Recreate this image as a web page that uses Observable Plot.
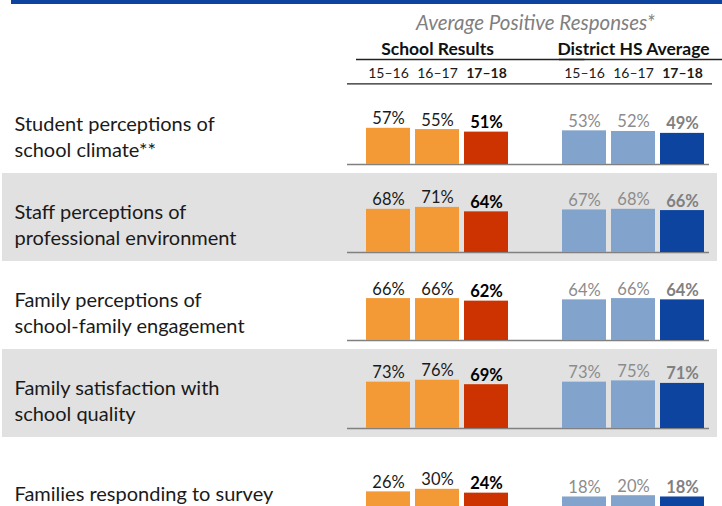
<!DOCTYPE html>
<html>
<head>
<meta charset="utf-8">
<script src="https://cdn.jsdelivr.net/npm/d3@7"></script>
<script src="https://cdn.jsdelivr.net/npm/@observablehq/plot@0.6"></script>
<style>
html, body { margin: 0; padding: 0; background: #fff; overflow: hidden; }
#wrap { position: relative; width: 722px; height: 506px; overflow: hidden; font-family: Lato, sans-serif; }
#topbar { position: absolute; left: 11px; top: 0; width: 711px; height: 4px; background: #0C44A0; z-index: 2; }
#wrap svg { display: block; }
</style>
</head>
<body>
<div id="wrap"><div id="topbar"></div></div>
<script>
// ---- Data ----
const categories = [
  "Student perceptions of\nschool climate**",
  "Staff perceptions of\nprofessional environment",
  "Family perceptions of\nschool-family engagement",
  "Family satisfaction with\nschool quality",
  "Families responding to survey"
];
const years = ["15–16", "16–17", "17–18"];
const groups = ["School Results", "District HS Average"];
const title = "Average Positive Responses*";

const school1516 = [57, 68, 66, 73, 26];
const school1617 = [55, 71, 66, 76, 30];
const school1718 = [51, 64, 62, 69, 24];
const district1516 = [53, 67, 64, 73, 18];
const district1617 = [52, 68, 66, 75, 20];
const district1718 = [49, 66, 64, 71, 18];

// ---- Table built from the arrays ----
const key = (g, y) => g + " " + y;
const seriesList = [
  {group: groups[0], kind: "school", year: years[0], values: school1516},
  {group: groups[0], kind: "school", year: years[1], values: school1617},
  {group: groups[0], kind: "school", year: years[2], values: school1718},
  {group: groups[1], kind: "district", year: years[0], values: district1516},
  {group: groups[1], kind: "district", year: years[1], values: district1617},
  {group: groups[1], kind: "district", year: years[2], values: district1718}
];
const table = seriesList.flatMap(s => categories.map((c, i) => ({
  category: c, group: s.group, kind: s.kind, year: s.year,
  key: key(s.group, s.year), value: s.values[i], current: s.year === years[2]
})));
const xDomain = [...years.map(y => key(groups[0], y)), "gap", ...years.map(y => key(groups[1], y))];
const yearLabels = groups.flatMap(g => years.map(y => ({group: g, year: y, key: key(g, y), current: y === years[2]})));

// ---- Layout / style ----
const W = 722, ML = 347, MR = 13;
const xOptions = {type: "band", domain: xDomain, paddingInner: 0.1, paddingOuter: 0.22, align: 0.8};
const bw = Plot.scale({x: {...xOptions, range: [ML, W - MR]}}).bandwidth;
const colorOptions = {
  domain: ["school prior", "school current", "district prior", "district current"],
  range: ["#F39A37", "#CC3300", "#82A3CC", "#0C44A0"]
};
const font = "Lato, 'Open Sans', sans-serif";
const labelStyles = [
  {kind: "school", current: false, fill: "#1a1a1a", fontWeight: "normal"},
  {kind: "school", current: true, fill: "#000000", fontWeight: "bold"},
  {kind: "district", current: false, fill: "#8c8c8c", fontWeight: "normal"},
  {kind: "district", current: true, fill: "#808080", fontWeight: "bold"}
];

// ---- Header ----
const header = Plot.plot({
  width: W, height: 84, marginLeft: ML, marginRight: MR, marginTop: 0, marginBottom: 0,
  style: {fontFamily: font, background: "transparent", overflow: "visible"},
  x: {...xOptions, axis: null},
  marks: [
    Plot.text([title], {x: () => "gap", frameAnchor: "top", lineAnchor: "bottom", dy: 29,
      fontSize: 20.5, fontStyle: "italic", fill: "#7f7f7f", text: d => d}),
    Plot.text(groups, {x: g => key(g, years[1]), frameAnchor: "top", lineAnchor: "bottom", dy: 54,
      fontSize: 17.5, fontWeight: "bold", fill: "#111", text: d => d}),
    Plot.ruleY([groups[0]], {x1: g => key(g, years[0]), x2: g => key(g, years[2]), y: null, dy: 17,
      insetLeft: -10, insetRight: -(bw + 32), stroke: "#222", strokeWidth: 1.3}),
    Plot.ruleY([groups[1]], {x1: g => key(g, years[0]), x2: g => key(g, years[2]), y: null, dy: 17,
      insetLeft: -3, insetRight: -(bw + 7), stroke: "#222", strokeWidth: 1.3}),
    ...[false, true].map(cur => Plot.text(yearLabels.filter(d => d.current === cur), {
      x: "key", text: "year", frameAnchor: "top", lineAnchor: "bottom", dy: 77,
      fontSize: 14, fontWeight: cur ? "bold" : "normal", fill: "#1a1a1a"})),
    Plot.ruleY([0], {y: null, dy: 41.3, insetRight: -3, stroke: "#222", strokeWidth: 1.3})
  ]
});

// ---- Rows ----
function rowsPlot(cats, bandH, insetTop) {
  const data = table.filter(d => cats.includes(d.category));
  const shaded = cats.filter(c => categories.indexOf(c) % 2 === 1);
  return Plot.plot({
    width: W, height: cats.length * bandH,
    marginLeft: ML, marginRight: MR, marginTop: 0, marginBottom: 0,
    style: {fontFamily: font, background: "transparent"},
    x: {...xOptions, axis: null},
    y: {domain: [0, 100], axis: null, insetTop, insetBottom: 9},
    fy: {domain: cats, axis: null, padding: 0},
    color: colorOptions,
    marks: [
      Plot.rect(shaded, {fy: d => d, fill: "#E1E1E1", insetLeft: -(ML - 2), insetRight: -8}),
      Plot.ruleY(cats, {fy: d => d, y: 0, stroke: "#808080", strokeWidth: 1.5}),
      Plot.barY(data, {x: "key", y: "value", fy: "category",
        fill: d => d.kind + (d.current ? " current" : " prior")}),
      ...labelStyles.map(s => Plot.text(
        data.filter(d => d.kind === s.kind && d.current === s.current), {
          x: "key", y: "value", fy: "category", text: d => d.value + "%",
          lineAnchor: "bottom", dy: -4, fontSize: 16.5, fill: s.fill, fontWeight: s.fontWeight
        })),
      Plot.text(cats, {fy: d => d, y: 0, text: d => d, frameAnchor: "left", textAnchor: "start",
        lineAnchor: "bottom", dx: -(ML - 14), dy: -8, fontSize: 20, lineHeight: 1.27, fill: "#1a1a1a"})
    ]
  });
}

const wrap = document.getElementById("wrap");
wrap.appendChild(header);
wrap.appendChild(rowsPlot(categories.slice(0, 4), 88.5, 15.5));
wrap.appendChild(rowsPlot(categories.slice(4), 79, 6));
</script>
</body>
</html>
